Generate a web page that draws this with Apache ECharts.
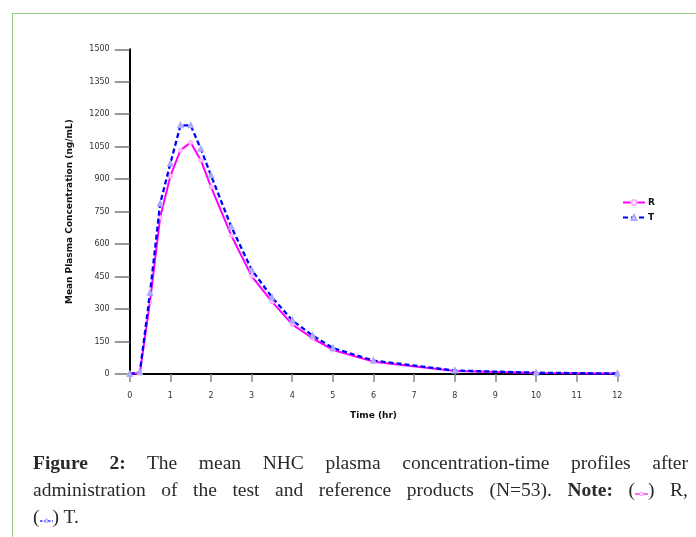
<!DOCTYPE html>
<html>
<head>
<meta charset="utf-8">
<script src="https://cdn.jsdelivr.net/npm/echarts@6/dist/echarts.min.js"></script>
<style>
  html, body { margin: 0; padding: 0; background: #fff; }
  #wrap { position: relative; width: 696px; height: 537px; overflow: hidden; }
  #frame { position: absolute; left: 12px; top: 13px; width: 700px; height: 540px;
           border-left: 1.5px solid #9acb88; border-top: 1.5px solid #9acb88; }
  #chart { position: absolute; left: 0; top: 0; width: 696px; height: 537px; }
  #caption { position: absolute; left: 33px; top: 449px; width: 655px;
             font-family: "Liberation Serif", "DejaVu Serif", serif; font-size: 19.5px;
             line-height: 27px; color: #2a2a2a; }
  .jl { text-align: justify; text-align-last: justify; }
  b { font-weight: bold; }
</style>
</head>
<body>
<div id="wrap">
  <div id="frame"></div>
  <div id="chart"></div>
  <div id="caption">
    <div class="jl"><b>Figure 2:</b> The mean NHC plasma concentration-time profiles after</div>
    <div class="jl">administration of the test and reference products (N=53). <b>Note:</b> (<svg width="13" height="10" style="vertical-align:-1px"><line x1="0" y1="7" x2="13" y2="7" stroke="#ff33ff" stroke-width="1.5"/><circle cx="6.5" cy="7" r="1.8" fill="#fff" stroke="#ff77ff" stroke-width="0.8"/></svg>) R,</div>
    <div>(<svg width="13" height="10" style="vertical-align:-1px"><line x1="0" y1="7" x2="13" y2="7" stroke="#3333ff" stroke-width="1.5" stroke-dasharray="2.5,1.5"/><path d="M6.5 4.5 L8.5 8 L4.5 8 Z" fill="#fff" stroke="#7777ff" stroke-width="0.8"/></svg>) T.</div>
  </div>
</div>
<script>
// Data
const timeHr = [0, 0.25, 0.5, 0.75, 1, 1.25, 1.5, 1.75, 2, 2.5, 3, 3.5, 4, 4.5, 5, 6, 8, 10, 12];
const seriesR = [0, 5, 334, 723, 914, 1034, 1069, 988, 864, 640, 452, 334, 229, 165, 111, 57, 14, 5, 2];
const seriesT = [0, 8, 375, 788, 972, 1149, 1149, 1040, 918, 680, 482, 355, 248, 178, 120, 62, 16, 6, 2];
const seriesNames = ['R', 'T'];
const yTitle = 'Mean Plasma Concentration (ng/mL)';
const xTitle = 'Time (hr)';

const pair = (xs, ys) => xs.map((x, i) => [x, ys[i]]);
const font = 'DejaVu Sans';

const chart = echarts.init(document.getElementById('chart'), null, { renderer: 'canvas' });
chart.setOption({
  animation: false,
  backgroundColor: 'transparent',
  grid: { left: 129.7, right: 78.7, top: 49.3, bottom: 163, containLabel: false },
  legend: {
    data: seriesNames,
    orient: 'vertical',
    left: 617,
    top: 193,
    itemWidth: 22,
    itemHeight: 6,
    itemGap: 6,
    textStyle: { fontFamily: font, fontSize: 9, fontWeight: 'bold', color: '#111', padding: [0, 0, 0, -2] }
  },
  xAxis: {
    type: 'value',
    min: 0, max: 12, interval: 1,
    name: xTitle,
    nameLocation: 'middle',
    nameGap: 37,
    nameTextStyle: { fontFamily: font, fontSize: 9, fontWeight: 'bold', color: '#111' },
    axisLine: { show: true, onZero: false, lineStyle: { color: '#000', width: 2 } },
    axisTick: { show: true, length: 8, lineStyle: { color: '#888', width: 1.5 } },
    axisLabel: { fontFamily: font, fontSize: 8, color: '#333', margin: 18 },
    splitLine: { show: false }
  },
  yAxis: {
    type: 'value',
    min: 0, max: 1500, interval: 150,
    name: yTitle,
    nameLocation: 'middle',
    nameGap: 56,
    nameTextStyle: { fontFamily: font, fontSize: 9, fontWeight: 'bold', color: '#111' },
    axisLine: { show: true, lineStyle: { color: '#000', width: 2 } },
    axisTick: { show: true, length: 15, lineStyle: { color: '#777', width: 1.5 } },
    axisLabel: { fontFamily: font, fontSize: 8, color: '#333', margin: 20, formatter: v => String(v) },
    splitLine: { show: false }
  },
  series: [
    {
      name: seriesNames[0],
      type: 'line',
      data: pair(timeHr, seriesR),
      symbol: 'emptyCircle',
      symbolSize: 3,
      showAllSymbol: true,
      itemStyle: { color: '#ffb0ff', borderColor: '#ffa8ff', borderWidth: 0.6 },
      lineStyle: { color: '#ff00ff', width: 2 },
      z: 2
    },
    {
      name: seriesNames[1],
      type: 'line',
      data: pair(timeHr, seriesT),
      symbol: 'emptyTriangle',
      symbolSize: 4,
      showAllSymbol: true,
      itemStyle: { color: '#a8a8ff', borderColor: '#a0a0ff', borderWidth: 0.6 },
      lineStyle: { color: '#0000ff', width: 2.3, type: [5, 3] },
      z: 3
    }
  ]
});
</script>
</body>
</html>
